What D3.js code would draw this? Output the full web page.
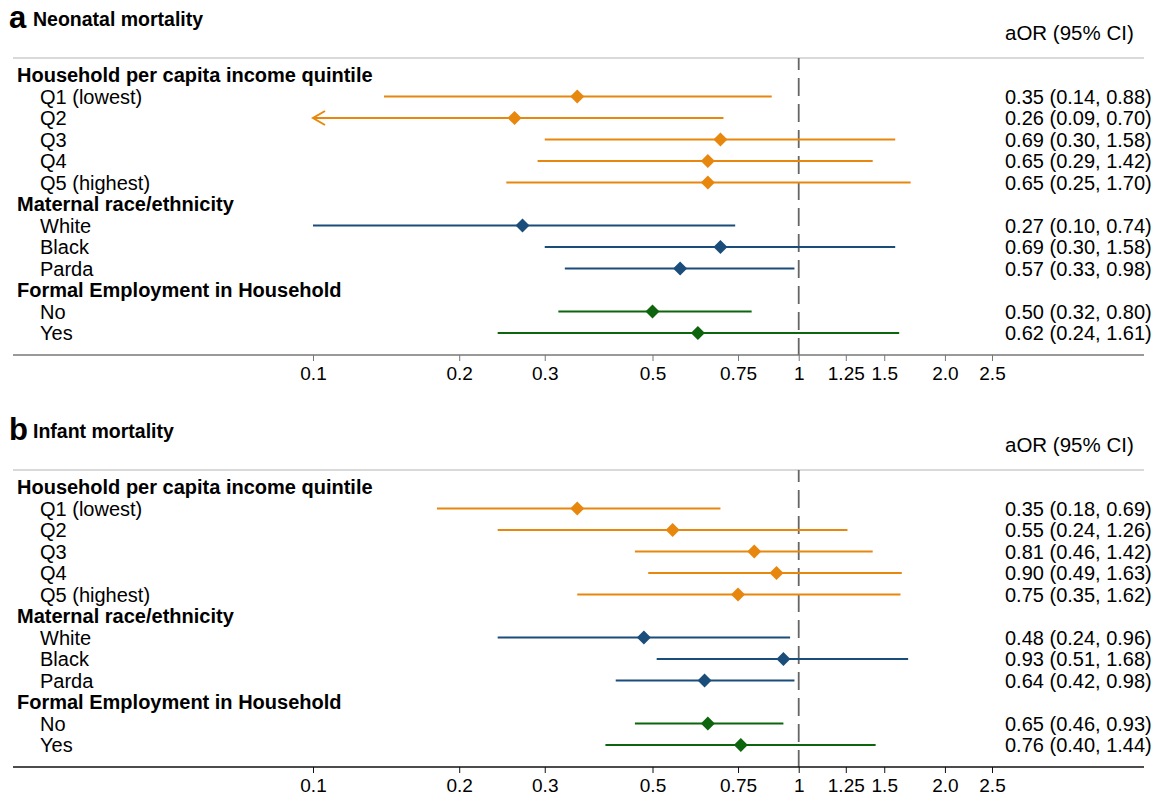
<!DOCTYPE html>
<html>
<head>
<meta charset="utf-8">
<script src="https://cdn.jsdelivr.net/npm/d3@7"></script>
<style>
  body { margin: 0; background: #fff; }
  text { font-family: "Liberation Sans", Arial, Helvetica, sans-serif; fill: #000; }
</style>
</head>
<body>
<svg id="chart" width="1156" height="797"></svg>
<script>
// row labels, null group = header row
const rowLabels = ["Household per capita income quintile", "Q1 (lowest)", "Q2", "Q3", "Q4", "Q5 (highest)",
  "Maternal race/ethnicity", "White", "Black", "Parda",
  "Formal Employment in Household", "No", "Yes"];
const rowGroups = [null, 0, 0, 0, 0, 0, null, 1, 1, 1, null, 2, 2];
const groupColors = ["#e8870e", "#1b4d7a", "#0d650d"];

// values for the non-header rows, in order
const neonatalOR = [0.35, 0.26, 0.69, 0.65, 0.65, 0.27, 0.69, 0.57, 0.50, 0.62];
const neonatalLo = [0.14, 0.09, 0.30, 0.29, 0.25, 0.10, 0.30, 0.33, 0.32, 0.24];
const neonatalHi = [0.88, 0.70, 1.58, 1.42, 1.70, 0.74, 1.58, 0.98, 0.80, 1.61];

const infantOR = [0.35, 0.55, 0.81, 0.90, 0.75, 0.48, 0.93, 0.64, 0.65, 0.76];
const infantLo = [0.18, 0.24, 0.46, 0.49, 0.35, 0.24, 0.51, 0.42, 0.46, 0.40];
const infantHi = [0.69, 1.26, 1.42, 1.63, 1.62, 0.96, 1.68, 0.98, 0.93, 1.44];

const tickValues = [0.1, 0.2, 0.3, 0.5, 0.75, 1, 1.25, 1.5, 2.0, 2.5];
const tickLabels = ["0.1", "0.2", "0.3", "0.5", "0.75", "1", "1.25", "1.5", "2.0", "2.5"];

const svg = d3.select("#chart");
const x = d3.scaleLog().domain([0.1, 2.5]).range([313, 992]);
const fmt = d3.format(".2f");
const labelSize = "20px";

function drawPanel(top, letter, title, orv, lov, hiv, axisColor) {
  const g = svg.append("g").attr("transform", "translate(0," + top + ")");
  const rowY = d3.scaleLinear().domain([0, 12]).range([75, 333]);

  g.append("text").attr("x", 9).attr("y", 28)
    .style("font-size", "31px").style("font-weight", "bold").text(letter);
  g.append("text").attr("x", 33).attr("y", 26)
    .style("font-size", "19.5px").style("font-weight", "bold").text(title);
  g.append("text").attr("x", 1005).attr("y", 40)
    .style("font-size", "20.5px").text("aOR (95% CI)");

  // top separator
  g.append("line").attr("x1", 13).attr("x2", 1144).attr("y1", 58).attr("y2", 58)
    .attr("stroke", "#cccccc").attr("stroke-width", 1.5);

  // reference line at 1
  g.append("line").attr("x1", x(1)).attr("x2", x(1)).attr("y1", 58).attr("y2", 355)
    .attr("stroke", "#666").attr("stroke-width", 1.8).attr("stroke-dasharray", "18,8")
    .attr("stroke-dashoffset", 6);

  let k = 0;
  rowLabels.forEach(function(lab, i) {
    const y = rowY(i);
    const grp = rowGroups[i];
    if (grp === null) {
      g.append("text").attr("x", 17).attr("y", y).attr("dy", "0.36em")
        .style("font-size", labelSize).style("font-weight", "bold").text(lab);
      return;
    }
    g.append("text").attr("x", 40).attr("y", y).attr("dy", "0.36em")
      .style("font-size", labelSize).text(lab);
    const col = groupColors[grp];
    const lo = lov[k], hi = hiv[k], or = orv[k];
    const x0 = x(Math.max(lo, 0.1)), x1 = x(Math.min(hi, 2.5));
    g.append("line").attr("x1", x0).attr("x2", x1).attr("y1", y).attr("y2", y)
      .attr("stroke", col).attr("stroke-width", 2);
    if (lo < 0.1) {
      g.append("path")
        .attr("d", "M" + (x0 + 12) + "," + (y - 7) + " L" + x0 + "," + y + " L" + (x0 + 12) + "," + (y + 7))
        .attr("fill", "none").attr("stroke", col).attr("stroke-width", 2);
    }
    // square diamond marker
    const cx = x(or), r = 7;
    g.append("path")
      .attr("d", "M" + cx + "," + (y - r) + " L" + (cx + r) + "," + y + " L" + cx + "," + (y + r) + " L" + (cx - r) + "," + y + " Z")
      .attr("fill", col);
    g.append("text").attr("x", 1005).attr("y", y).attr("dy", "0.36em")
      .style("font-size", labelSize)
      .text(fmt(or) + " (" + fmt(lo) + ", " + fmt(hi) + ")");
    k++;
  });

  // x axis
  g.append("line").attr("x1", 13).attr("x2", 1144).attr("y1", 355).attr("y2", 355)
    .attr("stroke", axisColor).attr("stroke-width", 1.5);
  const axis = d3.axisBottom(x).tickValues(tickValues).tickSize(6)
    .tickFormat(function(d, i) { return tickLabels[i]; });
  const ax = g.append("g").attr("transform", "translate(0,355)").call(axis);
  ax.select(".domain").remove();
  ax.selectAll(".tick line").attr("stroke", axisColor);
  ax.selectAll(".tick text")
    .style("font-family", "'Liberation Sans Narrow', 'Liberation Sans', Arial, sans-serif")
    .style("font-size", "19px").attr("fill", "#000").attr("y", 12);
}

drawPanel(0, "a", "Neonatal mortality", neonatalOR, neonatalLo, neonatalHi, "#777");
drawPanel(412, "b", "Infant mortality", infantOR, infantLo, infantHi, "#111");
</script>
</body>
</html>
